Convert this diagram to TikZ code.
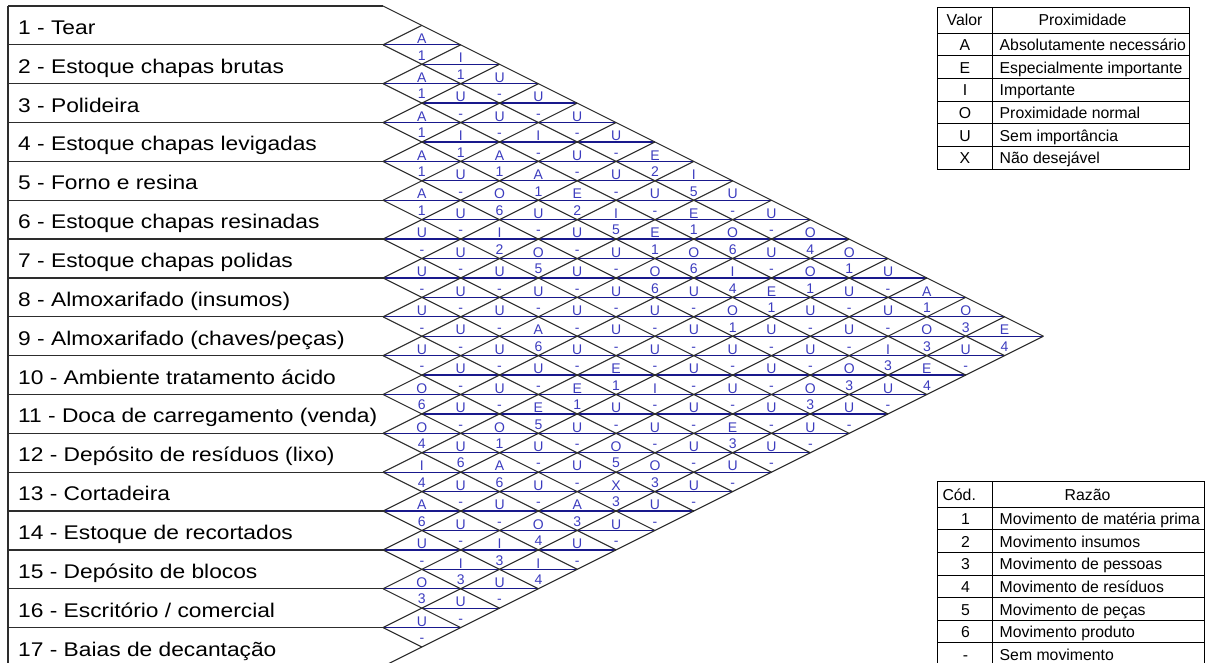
\documentclass[tikz,border=0pt]{standalone}
\usepackage{fontspec}
\setmainfont{Liberation Sans}
\newfontfamily\largafont{Liberation Sans}[FakeStretch=1.15]
\usetikzlibrary{positioning}

\definecolor{linhaazul}{RGB}{25,25,140}
\definecolor{textoazul}{RGB}{60,60,190}
\definecolor{linhacinza}{RGB}{45,45,45}

\tikzset{
  % --- Matriz de relacionamentos -----------------------------
  setor/.style={anchor=base west, inner sep=0pt,
    font=\largafont\fontsize{19.8}{22}\selectfont},
  borda/.style={draw=linhacinza, line width=1.2pt},
  diag/.style={draw=linhacinza, line width=1.1pt},
  meio/.style={draw=linhaazul, line width=1.3pt},
  grau/.style={anchor=base, inner sep=0pt, text=textoazul,
    font=\fontsize{14}{16}\selectfont},
  % --- Legendas ----------------------------------------------
  tab/.style={draw=black, line width=1pt},
  tabc/.style={anchor=base, inner sep=0pt,
    font=\fontsize{15.8}{18}\selectfont},
  tabe/.style={anchor=base west, inner sep=0pt,
    font=\fontsize{15.8}{18}\selectfont}
}

\begin{document}
\begin{tikzpicture}[x=1pt, y=-1pt]
  \useasboundingbox (0,0) rectangle (1205,663);
  \clip (0,0) rectangle (1205,663);
  \def\hh{38.85}
  \def\xo{383}
  \def\yo{6}

  % --- Setores (linhas da esquerda) ---
  \foreach \k/\txt in {1/{1 - Tear}, 2/{2 - Estoque chapas brutas},
      3/{3 - Polideira}, 4/{4 - Estoque chapas levigadas},
      5/{5 - Forno e resina}, 6/{6 - Estoque chapas resinadas},
      7/{7 - Estoque chapas polidas}, 8/{8 - Almoxarifado (insumos)},
      9/{9 - Almoxarifado (chaves/peças)},
      10/{10 - Ambiente tratamento ácido},
      11/{11 - Doca de carregamento (venda)},
      12/{12 - Depósito de resíduos (lixo)}, 13/{13 - Cortadeira},
      14/{14 - Estoque de recortados}, 15/{15 - Depósito de blocos},
      16/{16 - Escritório / comercial}, 17/{17 - Baias de decantação}}
    \node[setor] (s\k) at (18,{\yo+(\k-0.5)*\hh+9}) {\txt};

  \foreach \k in {0,...,17}
    \draw[borda] (8,{\yo+\k*\hh}) -- (\xo,{\yo+\k*\hh});
  \draw[borda] (8,\yo) -- (8,{\yo+17*\hh});

  % --- Linhas azuis do meio de cada losango ---
  \foreach \m in {2,...,32} {
    \pgfmathsetmacro{\xa}{\xo+mod(\m,2)*\hh}
    \pgfmathsetmacro{\xb}{\xo+min(\m,34-\m)*\hh}
    \draw[meio] (\xa,{\yo+\m*\hh/2}) -- (\xb,{\yo+\m*\hh/2});
  }

  % --- Diagonais ---
  \foreach \k in {0,...,16}
    \draw[diag] (\xo,{\yo+\k*\hh}) -- ({\xo+(17-\k)*\hh},{\yo+(\k+17)*\hh/2});
  \foreach \k in {1,...,17}
    \draw[diag] (\xo,{\yo+\k*\hh}) -- ({\xo+\k*\hh},{\yo+\k*\hh/2});

  % --- Grau de proximidade / razao ---
  \foreach \i/\j/\g/\r in {
      1/2/A/1, 1/3/I/1, 1/4/U/-, 1/5/U/-, 1/6/U/-, 1/7/U/-, 1/8/E/2,
      1/9/I/5, 1/10/U/-, 1/11/U/-, 1/12/O/4, 1/13/O/1, 1/14/U/-,
      1/15/A/1, 1/16/O/3, 1/17/E/4,
      2/3/A/1, 2/4/U/-, 2/5/U/-, 2/6/I/-, 2/7/U/-, 2/8/U/-, 2/9/U/-,
      2/10/E/1, 2/11/O/6, 2/12/U/-, 2/13/O/1, 2/14/U/-, 2/15/U/-,
      2/16/O/3, 2/17/U/-,
      3/4/A/1, 3/5/I/1, 3/6/A/1, 3/7/A/1, 3/8/E/2, 3/9/I/5, 3/10/E/1,
      3/11/O/6, 3/12/I/4, 3/13/E/1, 3/14/U/-, 3/15/U/-, 3/16/I/3,
      3/17/E/4,
      4/5/A/1, 4/6/U/-, 4/7/O/6, 4/8/U/-, 4/9/U/-, 4/10/U/-, 4/11/O/6,
      4/12/U/-, 4/13/O/1, 4/14/U/-, 4/15/U/-, 4/16/O/3, 4/17/U/-,
      5/6/A/1, 5/7/U/-, 5/8/I/2, 5/9/O/5, 5/10/U/-, 5/11/U/-, 5/12/U/-,
      5/13/U/-, 5/14/U/-, 5/15/U/-, 5/16/O/3, 5/17/U/-,
      6/7/U/-, 6/8/U/-, 6/9/U/-, 6/10/U/-, 6/11/U/-, 6/12/U/-,
      6/13/U/-, 6/14/U/-, 6/15/U/-, 6/16/U/-, 6/17/U/-,
      7/8/U/-, 7/9/U/-, 7/10/U/-, 7/11/A/6, 7/12/U/-, 7/13/E/1,
      7/14/I/-, 7/15/U/-, 7/16/E/3, 7/17/U/-,
      8/9/U/-, 8/10/U/-, 8/11/U/-, 8/12/U/-, 8/13/E/1, 8/14/U/-,
      8/15/U/-, 8/16/U/-, 8/17/U/-,
      9/10/U/-, 9/11/U/-, 9/12/U/-, 9/13/E/5, 9/14/U/-, 9/15/O/5,
      9/16/O/3, 9/17/U/-,
      10/11/O/6, 10/12/U/-, 10/13/O/1, 10/14/U/-, 10/15/U/-,
      10/16/X/3, 10/17/U/-,
      11/12/O/4, 11/13/U/6, 11/14/A/6, 11/15/U/-, 11/16/A/3, 11/17/U/-,
      12/13/I/4, 12/14/U/-, 12/15/U/-, 12/16/O/4, 12/17/U/-,
      13/14/A/6, 13/15/U/-, 13/16/I/3, 13/17/I/4,
      14/15/U/-, 14/16/I/3, 14/17/U/-,
      15/16/O/3, 15/17/U/-,
      16/17/U/-} {
    \pgfmathsetmacro{\cx}{\xo+(\j-\i)*\hh}
    \pgfmathsetmacro{\cy}{\yo+(\i+\j-1)*\hh/2}
    \node[grau] (g\i-\j) at (\cx,\cy-1.3) {\g};
    \node[grau] (n\i-\j) at (\cx,\cy+15.2) {\r};
  }

  % --- Tabela Valor / Proximidade ---
  \draw[tab] (937.3,7.3) rectangle (1189.3,169.3);
  \draw[tab] (992.7,7.3) -- (992.7,169.3);
  \foreach \y in {33.3,56,78.7,101.3,124,146.7}
    \draw[tab] (937.3,\y) -- (1189.3,\y);
  \node[tabc] (v0) at (964.5,26) {Valor};
  \node[tabc] (p0) at (1082.5,26) {Proximidade};
  \foreach \k/\v/\d in {1/A/Absolutamente necessário,
      2/E/Especialmente importante, 3/I/Importante,
      4/O/Proximidade normal, 5/U/Sem importância, 6/X/Não desejável} {
    \node[tabc] (v\k) at (965,{33.3+(\k-0.5)*22.67+6}) {\v};
    \node[tabe] (p\k) at (999.5,{33.3+(\k-0.5)*22.67+6}) {\d};
  }

  % --- Tabela Cod. / Razao ---
  \draw[tab] (937.3,481) rectangle (1204,688);
  \draw[tab] (992.7,481) -- (992.7,688);
  \foreach \k in {0,...,7}
    \draw[tab] (937.3,{507.3+\k*22.6}) -- (1204,{507.3+\k*22.6});
  \node[tabc] (c0) at (959.2,500.2) {Cód.};
  \node[tabc] (z0) at (1087.5,500.2) {Razão};
  \foreach \k/\v/\d in {1/1/Movimento de matéria prima,
      2/2/Movimento insumos, 3/3/Movimento de pessoas,
      4/4/Movimento de resíduos, 5/5/Movimento de peças,
      6/6/Movimento produto, 7/-/Sem movimento} {
    \node[tabc] (c\k) at (965.5,{507.3+(\k-0.5)*22.6+6}) {\v};
    \node[tabe] (z\k) at (999.5,{507.3+(\k-0.5)*22.6+6}) {\d};
  }
\end{tikzpicture}
\end{document}
